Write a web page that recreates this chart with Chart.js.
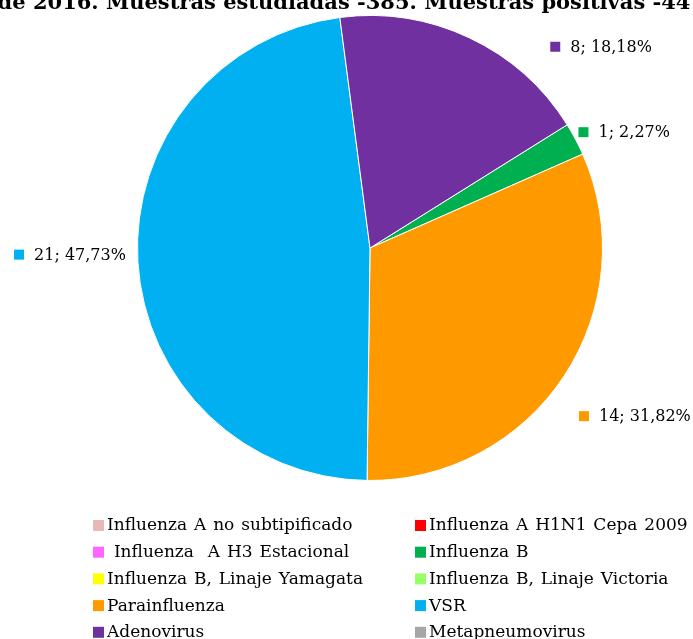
<!DOCTYPE html>
<html>
<head>
<meta charset="utf-8">
<script src="https://cdn.jsdelivr.net/npm/chart.js@4/dist/chart.umd.min.js"></script>
<style>
  html, body { margin: 0; padding: 0; background: #fff; overflow: hidden; }
  #wrap { width: 693px; height: 639px; position: relative; }
</style>
</head>
<body>
<div id="wrap"><canvas id="pie"></canvas></div>
<script>
// Virus detectados
var categories = [
    'Influenza A no subtipificado',
    'Influenza A H1N1 Cepa 2009',
    ' Influenza  A H3 Estacional',
    'Influenza B',
    'Influenza B, Linaje Yamagata',
    'Influenza B, Linaje Victoria',
    'Parainfluenza',
    'VSR',
    'Adenovirus',
    'Metapneumovirus'
];
var counts = [0, 0, 0, 1, 0, 0, 14, 21, 8, 0];
var colors = ['#E6B9B8', '#FF0000', '#FF66FF', '#00B050', '#FFFF00',
              '#99FF66', '#FF9900', '#00B0F0', '#7030A0', '#A6A6A6'];
var titleText = 'de 2016. Muestras estudiadas -385. Muestras positivas -44';

var serif = '"DejaVu Serif", "Liberation Serif", serif';

// desplazamiento de cada etiqueta respecto al borde del sector
var labelNudge = { 3: [3, -7], 6: [15, 40], 7: [-12, -7], 8: [81, 9] };

// titulo (ultima linea, cortada arriba)
var titlePlugin = {
    id: 'titleLine',
    afterDraw: function(chart) {
        var ctx = chart.ctx;
        ctx.save();
        ctx.font = 'bold 21px ' + serif;
        ctx.fillStyle = '#000';
        ctx.textAlign = 'center';
        ctx.textBaseline = 'alphabetic';
        ctx.fillText(titleText, 344, 9);
        ctx.restore();
    }
};

// etiquetas "n; %" con su cuadrado de color
var valueLabels = {
    id: 'valueLabels',
    afterDatasetsDraw: function(chart) {
        var ctx = chart.ctx;
        var meta = chart.getDatasetMeta(0);
        var total = counts.reduce(function(a, b) { return a + b; }, 0);
        ctx.save();
        ctx.font = '16px ' + serif;
        ctx.textBaseline = 'middle';
        meta.data.forEach(function(arc, i) {
            if (!counts[i]) return;
            var p = arc.getProps(['x', 'y', 'startAngle', 'endAngle', 'outerRadius'], true);
            var mid = (p.startAngle + p.endAngle) / 2;
            var ex = p.x + Math.cos(mid) * p.outerRadius;
            var ey = p.y + Math.sin(mid) * p.outerRadius;
            var nudge = labelNudge[i] || [10, 0];
            var pct = (counts[i] / total * 100).toFixed(2).replace('.', ',');
            var text = counts[i] + '; ' + pct + '%';
            var w = 10 + 10 + ctx.measureText(text).width;
            var left = Math.cos(mid) >= 0 ? ex + nudge[0] : ex + nudge[0] - w;
            var cy = ey + nudge[1];
            ctx.fillStyle = colors[i];
            ctx.fillRect(left, cy - 5, 10, 10);
            ctx.fillStyle = '#000';
            ctx.textAlign = 'left';
            ctx.fillText(text, left + 20, cy + 1);
        });
        ctx.restore();
    }
};

// leyenda en dos columnas
var gridLegend = {
    id: 'gridLegend',
    afterDraw: function(chart) {
        var ctx = chart.ctx;
        var colX = [93, 415];
        ctx.save();
        ctx.font = '17px ' + serif;
        ctx.wordSpacing = '1.5px';
        ctx.textBaseline = 'middle';
        ctx.textAlign = 'left';
        categories.forEach(function(name, i) {
            var x = colX[i % 2];
            var y = 525 + Math.floor(i / 2) * 26.7;
            ctx.fillStyle = colors[i];
            ctx.fillRect(x, y - 5, 11, 11);
            ctx.fillStyle = '#000';
            ctx.fillText(name, x + 14, y + 1);
        });
        ctx.restore();
    }
};

var chart = new Chart(document.getElementById('pie'), {
    type: 'pie',
    data: {
        labels: categories,
        datasets: [{
            data: counts,
            backgroundColor: colors,
            borderColor: '#fff',
            borderWidth: 1,
            hoverOffset: 0
        }]
    },
    options: {
        responsive: true,
        maintainAspectRatio: false,
        animation: false,
        rotation: 58,
        layout: { padding: { left: 60, right: 13, top: 15, bottom: 158 } },
        plugins: {
            legend: { display: false },
            tooltip: { enabled: false }
        }
    },
    plugins: [titlePlugin, valueLabels, gridLegend]
});
</script>
</body>
</html>
